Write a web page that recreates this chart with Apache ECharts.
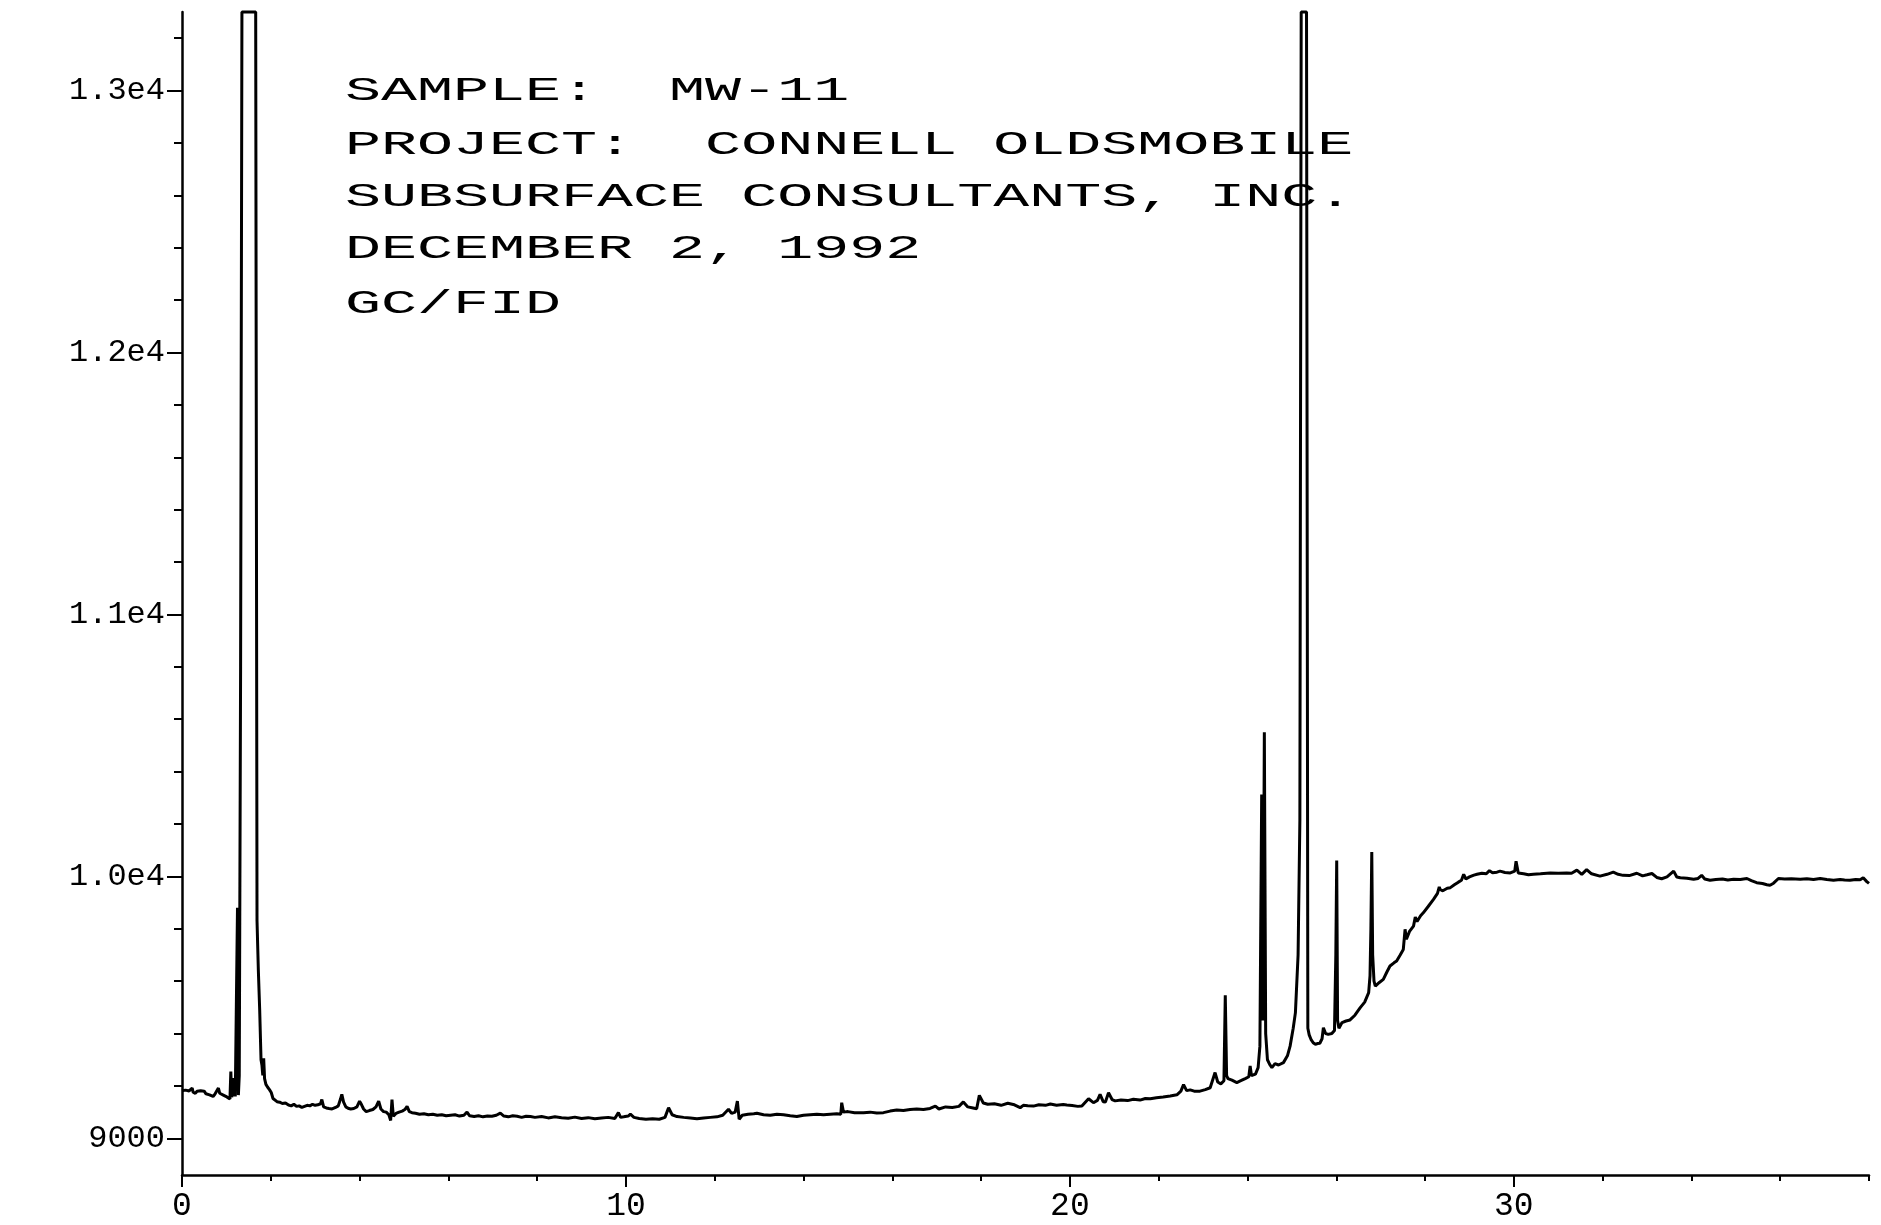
<!DOCTYPE html>
<html><head><meta charset="utf-8">
<script src="https://cdn.jsdelivr.net/npm/echarts@6/dist/echarts.min.js"></script>
<style>html,body{margin:0;padding:0;background:#fff}#c{width:1881px;height:1225px}</style>
</head><body><div id="c"></div>
<script>
// Retention time (minutes)
const retentionTime = [
0.00,0.04,0.08,0.12,0.16,0.20,0.23,0.25,0.30,0.34,0.38,0.42,0.46,0.50,0.54,0.58,0.62,0.66,0.70,0.74,0.78,0.82,0.85,0.89,0.93,0.97,1.01,1.05,1.08,1.10,1.12,1.15,1.17,1.20,1.23,1.25,1.27,1.29,1.32,1.35,1.66,1.69,1.72,1.75,1.78,1.80,1.82,1.84,1.86,1.89,1.93,1.97,
2.01,2.05,2.09,2.14,2.20,2.26,2.33,2.40,2.46,2.52,2.58,2.64,2.70,2.76,2.82,2.88,2.94,3.00,3.06,3.12,3.15,3.19,3.25,3.31,3.38,3.46,3.52,3.57,3.60,3.64,3.69,3.74,3.80,3.87,3.94,
4.00,4.04,4.09,4.15,4.22,4.30,4.37,4.43,4.48,4.54,4.60,4.66,4.70,4.73,4.76,4.82,4.89,4.96,5.02,5.07,5.12,5.18,5.26,5.35,5.45,5.55,5.65,5.75,5.85,5.95,
6.05,6.15,6.25,6.35,6.42,6.48,6.58,6.68,6.78,6.88,6.98,7.08,7.17,7.25,7.35,7.45,7.55,7.65,7.75,7.85,7.95,8.10,8.25,8.40,8.55,8.70,8.85,9.00,9.15,9.30,9.45,9.60,9.75,9.83,9.88,9.95,
10.05,10.10,10.18,10.30,10.45,10.60,10.75,10.88,10.96,11.04,11.15,11.30,11.45,11.60,11.75,11.90,12.05,12.18,12.31,12.38,12.46,12.51,12.55,12.62,12.75,12.88,12.95,13.10,13.25,13.40,13.55,13.70,13.85,
14.00,14.15,14.30,14.45,14.60,14.75,14.84,14.86,14.90,15.00,15.15,15.35,15.50,15.65,15.80,15.95,16.10,16.25,16.40,16.55,16.70,16.85,16.97,17.05,17.20,17.35,17.50,17.60,17.70,17.82,17.90,17.96,
18.05,18.15,18.30,18.45,18.60,18.75,18.88,18.95,19.05,19.18,19.30,19.45,19.56,19.70,19.85,19.93,20.05,20.18,20.27,20.42,20.53,20.62,20.68,20.75,20.80,20.87,20.95,21.02,21.15,21.30,21.43,21.58,21.70,21.81,21.95,
22.10,22.26,22.41,22.50,22.56,22.63,22.71,22.80,22.93,23.05,23.16,23.27,23.33,23.40,23.47,23.50,23.53,23.56,23.65,23.76,23.85,23.95,24.03,24.06,24.09,24.18,24.24,24.28,24.32,24.35,24.38,24.41,24.45,24.50,24.55,24.62,24.70,24.81,24.90,24.96,
25.03,25.08,25.14,25.18,25.21,25.33,25.36,25.39,25.43,25.48,25.53,25.58,25.63,25.68,25.71,25.76,25.82,25.90,25.96,25.99,26.01,26.03,26.06,26.13,26.22,26.31,26.42,26.54,26.64,26.73,26.76,26.78,26.80,26.82,26.85,26.88,26.97,
27.06,27.14,27.21,27.30,27.36,27.44,27.51,27.55,27.58,27.65,27.74,27.78,27.82,27.90,27.96,28.07,28.19,28.28,28.32,28.34,28.40,28.50,28.57,28.66,28.75,28.82,28.87,28.92,29.00,29.10,29.17,29.28,29.38,29.45,29.52,29.62,29.69,29.80,29.92,
30.02,30.05,30.10,30.22,30.33,30.44,30.60,30.82,31.00,31.19,31.30,31.42,31.53,31.64,31.75,31.94,32.10,32.24,32.35,32.46,32.60,32.77,32.90,33.00,33.11,33.22,33.33,33.45,33.60,33.67,33.75,33.90,
34.05,34.15,34.23,34.30,34.42,34.55,34.70,34.82,34.95,35.10,35.25,35.35,35.47,35.60,35.70,35.77,35.85,35.96,36.10,36.25,36.45,36.60,36.75,36.90,37.05,37.20,37.35,37.45,37.57,37.70,37.80,37.87,37.95,38.00
];
// Detector response
const fidSignal = [
9182,9176,9184,9178,9181,9176,9192,9176,9172,9180,9174,9182,9176,9180,9170,9172,9166,9164,9160,9168,9172,9192,9172,9168,9165,9160,9158,9154,9150,9255,9158,9172,9230,9160,9162,9880,9165,9240,10800,13300,13300,9830,9640,9490,9300,9280,9240,9305,9228,9206,9195,9186,
9175,9152,9145,9140,9138,9133,9135,9127,9124,9130,9122,9124,9118,9122,9126,9124,9130,9126,9128,9132,9148,9120,9116,9114,9112,9118,9124,9150,9168,9138,9120,9115,9112,9114,9120,
9142,9130,9112,9102,9106,9110,9120,9142,9112,9102,9100,9090,9068,9148,9084,9095,9100,9104,9110,9122,9102,9098,9096,9092,9094,9090,9092,9088,9090,9086,
9088,9090,9085,9088,9100,9086,9083,9086,9082,9085,9084,9088,9096,9085,9082,9086,9084,9080,9084,9083,9080,9083,9078,9082,9079,9077,9081,9076,9079,9075,9078,9080,9076,9098,9080,9082,
9085,9092,9080,9076,9073,9075,9073,9080,9117,9090,9083,9080,9078,9075,9078,9080,9082,9088,9111,9095,9100,9142,9073,9088,9092,9094,9096,9090,9088,9092,9090,9086,9083,
9088,9090,9092,9090,9092,9094,9092,9136,9100,9102,9098,9098,9100,9097,9098,9104,9108,9106,9110,9112,9110,9114,9123,9112,9120,9118,9122,9139,9120,9116,9113,9164,
9135,9130,9132,9126,9134,9128,9117,9126,9124,9123,9128,9126,9131,9126,9129,9127,9125,9122,9123,9151,9136,9145,9168,9140,9139,9174,9148,9143,9146,9144,9149,9146,9152,9151,9155,
9158,9162,9166,9180,9205,9182,9185,9180,9180,9186,9193,9251,9215,9208,9220,9546,9240,9228,9222,9213,9220,9228,9235,9276,9240,9245,9270,9352,10313,9450,10550,9400,9300,9282,9270,9285,9280,9289,9315,9352,
9420,9480,9700,10211,13300,13300,9420,9395,9378,9365,9359,9362,9363,9380,9422,9400,9397,9400,9412,9700,10061,9450,9420,9442,9448,9452,9470,9499,9520,9556,9620,9800,10093,9700,9600,9581,9595,
9607,9635,9658,9670,9677,9700,9721,9798,9760,9790,9810,9845,9828,9850,9861,9885,9912,9935,9960,9950,9945,9955,9957,9968,9978,9985,10008,9990,9998,10005,10008,10012,10010,10022,10014,10016,10020,10015,10013,
10020,10058,10013,10010,10006,10008,10010,10013,10012,10013,10012,10024,10008,10026,10010,10001,10008,10016,10008,10004,10003,10012,10002,10006,10011,9996,9991,9998,10020,9998,9995,9993,
9989,9992,10004,9990,9985,9988,9990,9986,9989,9988,9992,9984,9976,9973,9968,9966,9974,9992,9990,9991,9989,9991,9988,9992,9988,9985,9988,9986,9985,9988,9987,9995,9980,9973
];
const yMajorTicks = [9000, 10000, 11000, 12000, 13000];
const yMajorLabels = ['9000', '1.0e4', '1.1e4', '1.2e4', '1.3e4'];
const yMinorTicks = [9000,9200,9400,9600,9800,10000,10200,10400,10600,10800,11000,11200,11400,11600,11800,12000,12200,12400,12600,12800,13000,13200];
const xMajorTicks = [0, 10, 20, 30];
const xMajorLabels = ['0', '10', '20', '30'];
const annotationLines = ['SAMPLE:  MW-11', 'PROJECT:  CONNELL OLDSMOBILE', 'SUBSURFACE CONSULTANTS, INC.', 'DECEMBER 2, 1992', 'GC/FID'];

// layout
const Y_MIN = 8860, Y_MAX = 13300, X_MIN = 0, X_MAX = 38;
const MONO = '"Liberation Mono", "DejaVu Sans Mono", monospace';
const black = '#000';
const ANNOT_LEFT = 345;
const ANNOT_SCALE_X = 1.765;
const annotCenters = [91, 145, 197, 249, 304];

const seriesData = retentionTime.map((t, i) => [t, fidSignal[i]]);

const chart = echarts.init(document.getElementById('c'), null, {renderer: 'canvas'});
chart.setOption({
  animation: false,
  backgroundColor: '#fff',
  grid: {left: 182, right: 12, top: 12, bottom: 50, containLabel: false, outerBoundsMode: 'none'},
  xAxis: [
    {type: 'value', min: X_MIN, max: X_MAX, interval: 2, position: 'bottom',
     axisLine: {show: true, onZero: false, lineStyle: {color: black, width: 2.5}},
     axisTick: {show: true, length: 6, lineStyle: {color: black, width: 2}},
     axisLabel: {show: false}, splitLine: {show: false}},
    {type: 'value', min: X_MIN, max: X_MAX, position: 'bottom',
     axisLine: {show: false},
     axisTick: {show: true, customValues: xMajorTicks, length: 12, lineStyle: {color: black, width: 2}},
     axisLabel: {show: true, customValues: xMajorTicks, margin: 15, color: black, fontFamily: MONO, fontSize: 33,
       formatter: v => xMajorLabels[xMajorTicks.indexOf(v)]},
     splitLine: {show: false}}
  ],
  yAxis: [
    {type: 'value', min: Y_MIN, max: Y_MAX, position: 'left',
     axisLine: {show: true, onZero: false, lineStyle: {color: black, width: 2.5}},
     axisTick: {show: true, customValues: yMajorTicks, length: 15, lineStyle: {color: black, width: 2}},
     axisLabel: {show: true, customValues: yMajorTicks, margin: 17, color: black, fontFamily: MONO, fontSize: 32,
       formatter: v => yMajorLabels[yMajorTicks.indexOf(v)]},
     splitLine: {show: false}},
    {type: 'value', min: Y_MIN, max: Y_MAX, position: 'left',
     axisLine: {show: false},
     axisTick: {show: true, customValues: yMinorTicks, length: 8, lineStyle: {color: black, width: 2}},
     axisLabel: {show: false}, splitLine: {show: false}}
  ],
  series: [{
    type: 'line', xAxisIndex: 0, yAxisIndex: 0, data: seriesData,
    showSymbol: false, symbol: 'none', clip: false, sampling: null,
    lineStyle: {color: black, width: 3}
  }],
  graphic: annotationLines.map((txt, i) => ({
    type: 'text', x: ANNOT_LEFT, y: annotCenters[i], scaleX: ANNOT_SCALE_X, scaleY: 1,
    style: {text: txt, fill: black, font: '34px ' + MONO, verticalAlign: 'middle', align: 'left'}
  }))
});
</script></body></html>
